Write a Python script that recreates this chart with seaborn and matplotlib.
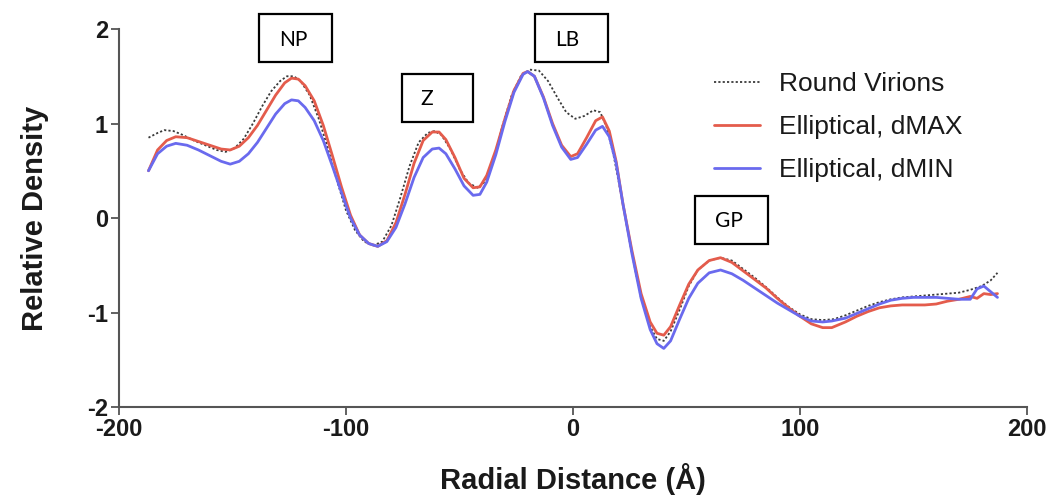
import matplotlib
matplotlib.use("Agg")
import matplotlib.pyplot as plt
from matplotlib.patches import Rectangle
import seaborn as sns
import pandas as pd

# ---------------- data ----------------
round_x = [-187, -183, -180, -176, -172, -167, -162, -157, -153, -149, -145, -141, -137, -133,
           -129, -126, -123, -120, -116, -112, -108, -104, -100, -96, -92, -88, -84, -80, -76,
           -72, -68, -64, -61, -58, -54, -50, -46, -42, -39, -35, -31, -27, -23, -19, -15, -11,
           -7, -3, 1, 5, 9, 12, 15, 18, 22, 26, 30, 34, 37, 40, 43, 47, 51, 55, 60, 65, 70, 75,
           80, 85, 90, 95, 100, 105, 110, 115, 120, 125, 130, 135, 140, 145, 150, 155, 160, 165,
           170, 175, 180, 184, 187]
round_y = [0.85, 0.90, 0.93, 0.92, 0.88, 0.82, 0.77, 0.72, 0.70, 0.74, 0.84, 1.00, 1.18, 1.34,
           1.45, 1.50, 1.50, 1.45, 1.30, 1.05, 0.74, 0.40, 0.08, -0.13, -0.25, -0.29, -0.25, -0.08,
           0.22, 0.55, 0.80, 0.90, 0.92, 0.88, 0.73, 0.52, 0.37, 0.32, 0.38, 0.62, 0.98, 1.30,
           1.50, 1.57, 1.56, 1.45, 1.28, 1.12, 1.05, 1.08, 1.14, 1.12, 0.95, 0.65, 0.15, -0.38,
           -0.85, -1.15, -1.28, -1.30, -1.20, -0.97, -0.72, -0.55, -0.45, -0.42, -0.45, -0.54,
           -0.63, -0.73, -0.84, -0.94, -1.02, -1.07, -1.08, -1.07, -1.03, -0.98, -0.93, -0.89,
           -0.86, -0.84, -0.83, -0.82, -0.81, -0.80, -0.79, -0.76, -0.72, -0.66, -0.58]

ell_x = [-187, -183, -179, -175, -170, -165, -160, -155, -151, -147, -143, -139, -135, -131,
         -127, -124, -121, -118, -114, -110, -106, -102, -98, -94, -90, -86, -82, -78, -74, -70,
         -66, -62, -59, -56, -52, -48, -44, -41, -38, -34, -30, -26, -22, -20, -17, -13, -9, -5,
         -1, 2, 6, 10, 13, 16, 19, 22, 26, 30, 34, 37, 40, 43, 47, 51, 55, 60, 65, 70, 75, 80,
         85, 90, 95, 100, 105, 110, 114, 120, 125, 130, 135, 140, 145, 150, 155, 160, 165, 170,
         175, 178, 181, 184, 187]
dmax_y = [0.50, 0.72, 0.82, 0.86, 0.85, 0.81, 0.77, 0.73, 0.72, 0.76, 0.85, 0.98, 1.14, 1.30,
          1.43, 1.48, 1.47, 1.40, 1.24, 0.98, 0.66, 0.33, 0.03, -0.18, -0.27, -0.30, -0.24, -0.05,
          0.25, 0.58, 0.82, 0.91, 0.91, 0.83, 0.64, 0.42, 0.32, 0.33, 0.45, 0.72, 1.05, 1.35,
          1.53, 1.55, 1.50, 1.28, 1.00, 0.77, 0.65, 0.68, 0.85, 1.03, 1.07, 0.92, 0.60, 0.15,
          -0.35, -0.80, -1.10, -1.22, -1.24, -1.15, -0.92, -0.70, -0.55, -0.45, -0.42, -0.47,
          -0.56, -0.65, -0.74, -0.85, -0.95, -1.04, -1.12, -1.16, -1.16, -1.10, -1.04, -0.99,
          -0.95, -0.93, -0.92, -0.92, -0.92, -0.91, -0.88, -0.86, -0.83, -0.85, -0.80, -0.81,
          -0.80]
dmin_y = [0.50, 0.68, 0.76, 0.79, 0.77, 0.72, 0.66, 0.60, 0.57, 0.60, 0.68, 0.80, 0.95, 1.10,
          1.21, 1.25, 1.24, 1.17, 1.03, 0.82, 0.55, 0.27, 0.00, -0.18, -0.27, -0.30, -0.25, -0.10,
          0.15, 0.43, 0.64, 0.73, 0.74, 0.68, 0.52, 0.34, 0.24, 0.25, 0.38, 0.67, 1.02, 1.33,
          1.52, 1.55, 1.50, 1.27, 0.98, 0.75, 0.62, 0.64, 0.78, 0.93, 0.97, 0.86, 0.58, 0.15,
          -0.38, -0.85, -1.18, -1.33, -1.38, -1.30, -1.07, -0.85, -0.69, -0.58, -0.55, -0.59,
          -0.66, -0.74, -0.82, -0.90, -0.97, -1.04, -1.09, -1.10, -1.09, -1.06, -1.01, -0.96,
          -0.91, -0.87, -0.85, -0.84, -0.84, -0.84, -0.85, -0.86, -0.86, -0.75, -0.72, -0.78,
          -0.84]

series_names = ["Round Virions", "Elliptical, dMAX", "Elliptical, dMIN"]
x_ticks = [-200, -100, 0, 100, 200]
y_ticks = [-2, -1, 0, 1, 2]
box_labels = ["NP", "Z", "LB", "GP"]

# ---------------- styling ----------------
sns.set_theme(style="ticks")
plt.rcParams["font.family"] = ["Liberation Sans", "DejaVu Sans"]

fig = plt.figure(figsize=(10.53, 5.01), dpi=100)
ax = fig.add_axes([0.113, 0.1876, 0.8623, 0.7545])

df_round = pd.DataFrame({"x": round_x, "y": round_y})
df_max = pd.DataFrame({"x": ell_x, "y": dmax_y})
df_min = pd.DataFrame({"x": ell_x, "y": dmin_y})

sns.lineplot(data=df_round, x="x", y="y", ax=ax, color="#3a3a3a", lw=1.3,
             linestyle=(0, (1.2, 1.2)), label=series_names[0], sort=False)
sns.lineplot(data=df_max, x="x", y="y", ax=ax, color="#E45C4C", lw=2.0,
             label=series_names[1], sort=False)
sns.lineplot(data=df_min, x="x", y="y", ax=ax, color="#6A6AEE", lw=2.0,
             label=series_names[2], sort=False)

ax.set_xlim(-200, 200)
ax.set_ylim(-2, 2)
ax.set_xticks(x_ticks)
ax.set_yticks(y_ticks)
ax.set_xticklabels([str(v) for v in x_ticks], fontsize=17, fontweight="bold", color="#1a1a1a")
ax.set_yticklabels([str(v) for v in y_ticks], fontsize=17, fontweight="bold", color="#1a1a1a")
ax.set_xlabel("Radial Distance (Å)", fontsize=21, fontweight="bold", labelpad=16, color="#1a1a1a")
ax.set_ylabel("Relative Density", fontsize=21, fontweight="bold", labelpad=27, color="#1a1a1a")
for s in ["top", "right"]:
    ax.spines[s].set_visible(False)
for s in ["left", "bottom"]:
    ax.spines[s].set_color("#555555")
    ax.spines[s].set_linewidth(1.5)
ax.tick_params(axis="both", direction="out", length=6, width=1.3, color="#555555", pad=2)

leg = ax.legend(loc="upper left", bbox_to_anchor=(0.629, 0.948), frameon=False,
                fontsize=19, handlelength=1.75, handletextpad=0.7, labelspacing=0.72)
for t in leg.get_texts():
    t.set_color("#1a1a1a")

# annotation boxes (data coordinates)
boxes = [(-138.3, 1.65, 32.1, 0.51, -123.3, 1.88),
         (-75.3, 1.02, 31.2, 0.50, -64.3, 1.26),
         (-16.7, 1.65, 32.1, 0.51, -2.6, 1.88),
         (53.7, -0.275, 32.2, 0.508, 68.7, -0.03)]
for lab, (bx, by, bw, bh, tx, ty) in zip(box_labels, boxes):
    ax.add_patch(Rectangle((bx, by), bw, bh, fill=True, facecolor="white",
                           edgecolor="black", lw=1.6, clip_on=False, zorder=5))
    ax.text(tx, ty, lab, ha="center", va="center", fontsize=15,
            family=["Lato", "DejaVu Sans"], color="black", zorder=6, clip_on=False)

fig.savefig("out.png", dpi=100, facecolor="white")
